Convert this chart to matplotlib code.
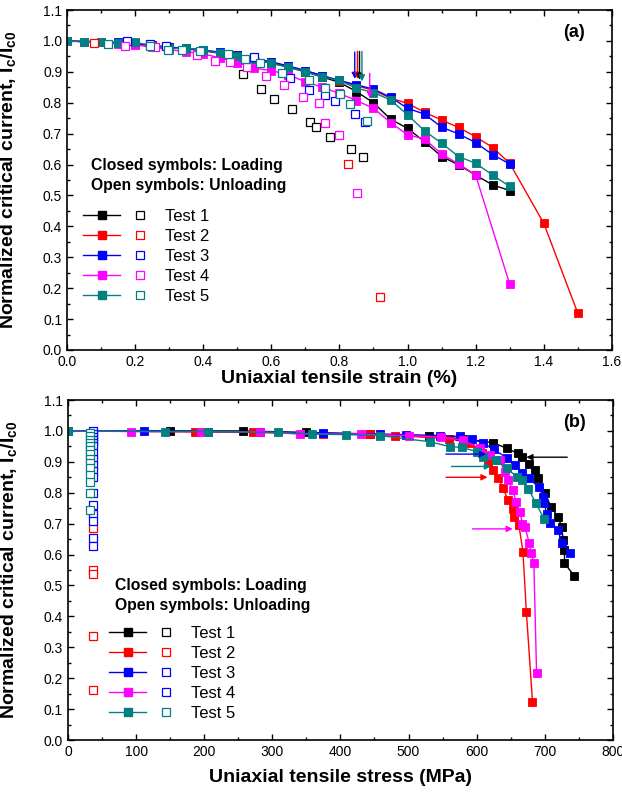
import matplotlib
matplotlib.use('Agg')
import matplotlib.pyplot as plt
from matplotlib.legend_handler import HandlerTuple
from matplotlib.lines import Line2D
from matplotlib.ticker import MultipleLocator

plt.rcParams['font.family'] = 'Liberation Sans'
plt.rcParams['mathtext.fontset'] = 'custom'
plt.rcParams['mathtext.rm'] = 'Liberation Sans'
plt.rcParams['mathtext.bf'] = 'Liberation Sans:bold'

tests = ['Test 1', 'Test 2', 'Test 3', 'Test 4', 'Test 5']
colors = ['black', 'red', 'blue', 'magenta', '#008080']

# ---- (a) Ic vs strain, loading (closed symbols)
strain_t1 = [0.0, 0.05, 0.1, 0.15, 0.2, 0.25, 0.3, 0.35, 0.4, 0.45, 0.5, 0.55, 0.6, 0.65,
             0.7, 0.75, 0.8, 0.85, 0.9, 0.95, 1.0, 1.05, 1.1, 1.15, 1.2, 1.25, 1.3]
ic_t1 = [1.0, 0.998, 0.997, 0.993, 0.99, 0.984, 0.978, 0.974, 0.968, 0.96, 0.95, 0.94, 0.928, 0.915,
         0.9, 0.883, 0.866, 0.836, 0.80, 0.747, 0.717, 0.674, 0.626, 0.599, 0.566, 0.534, 0.516]
strain_t2 = [0.0, 0.05, 0.1, 0.15, 0.2, 0.25, 0.3, 0.35, 0.4, 0.45, 0.5, 0.55, 0.6, 0.65,
             0.7, 0.75, 0.8, 0.85, 0.9, 0.95, 1.0, 1.05, 1.1, 1.15, 1.2, 1.25, 1.3, 1.4, 1.5]
ic_t2 = [1.0, 0.997, 0.996, 0.993, 0.99, 0.985, 0.979, 0.975, 0.97, 0.962, 0.953, 0.943, 0.931, 0.918,
         0.903, 0.887, 0.871, 0.855, 0.84, 0.815, 0.798, 0.769, 0.744, 0.72, 0.69, 0.655, 0.604, 0.41, 0.119]
strain_t3 = [0.0, 0.05, 0.1, 0.15, 0.2, 0.25, 0.3, 0.35, 0.4, 0.45, 0.5, 0.55, 0.6, 0.65,
             0.7, 0.75, 0.8, 0.85, 0.9, 0.95, 1.0, 1.05, 1.1, 1.15, 1.2, 1.25, 1.3]
ic_t3 = [1.0, 0.998, 0.998, 0.995, 0.992, 0.986, 0.98, 0.976, 0.971, 0.963, 0.954, 0.944, 0.932, 0.919,
         0.904, 0.888, 0.872, 0.858, 0.844, 0.818, 0.782, 0.763, 0.721, 0.699, 0.671, 0.632, 0.602]
strain_t4 = [0.0, 0.05, 0.1, 0.15, 0.2, 0.25, 0.3, 0.35, 0.4, 0.45, 0.5, 0.55, 0.6, 0.65,
             0.7, 0.75, 0.8, 0.85, 0.9, 0.95, 1.0, 1.05, 1.1, 1.15, 1.2, 1.3]
ic_t4 = [1.0, 0.997, 0.995, 0.99, 0.987, 0.98, 0.972, 0.965, 0.958, 0.945, 0.93, 0.912, 0.904, 0.89,
         0.868, 0.85, 0.83, 0.807, 0.782, 0.736, 0.696, 0.683, 0.634, 0.602, 0.566, 0.213]
strain_t5 = [0.0, 0.05, 0.1, 0.15, 0.2, 0.25, 0.3, 0.35, 0.4, 0.45, 0.5, 0.55, 0.6, 0.65,
             0.7, 0.75, 0.8, 0.85, 0.9, 0.95, 1.0, 1.05, 1.1, 1.15, 1.2, 1.25, 1.3]
ic_t5 = [1.0, 0.998, 0.998, 0.992, 0.995, 0.985, 0.976, 0.976, 0.971, 0.96, 0.951, 0.941, 0.928, 0.915,
         0.9, 0.884, 0.872, 0.847, 0.833, 0.809, 0.761, 0.709, 0.669, 0.626, 0.604, 0.566, 0.529]

# ---- (a) unloading (open symbols)
strain_u1 = [0.517, 0.571, 0.607, 0.661, 0.713, 0.732, 0.772, 0.834, 0.87]
ic_u1 = [0.893, 0.845, 0.813, 0.779, 0.739, 0.721, 0.688, 0.649, 0.626]
strain_u2 = [0.08, 0.25, 0.826, 0.92]
ic_u2 = [0.993, 0.985, 0.603, 0.173]
strain_u3 = [0.175, 0.245, 0.29, 0.55, 0.656, 0.71, 0.759, 0.788, 0.847, 0.876]
ic_u3 = [1.0, 0.99, 0.982, 0.949, 0.881, 0.841, 0.825, 0.804, 0.763, 0.739]
strain_u4 = [0.17, 0.259, 0.381, 0.435, 0.479, 0.528, 0.584, 0.638, 0.692, 0.74, 0.759, 0.80, 0.852]
ic_u4 = [0.984, 0.98, 0.955, 0.936, 0.933, 0.914, 0.885, 0.858, 0.82, 0.80, 0.736, 0.696, 0.509]
strain_u5 = [0.12, 0.244, 0.298, 0.337, 0.391, 0.474, 0.524, 0.568, 0.631, 0.71, 0.757, 0.803, 0.83, 0.88]
ic_u5 = [0.989, 0.985, 0.971, 0.969, 0.966, 0.957, 0.941, 0.93, 0.897, 0.872, 0.849, 0.828, 0.795, 0.741]

# ---- (a) vertical arrows: x, y start, y end
arrow_a_x = [0.845, 0.853, 0.859, 0.866, 0.889]
arrow_a_y0 = [0.964, 0.966, 0.966, 0.966, 0.895]
arrow_a_y1 = [0.877, 0.877, 0.874, 0.869, 0.815]
arrow_a_col = ['blue', 'red', 'black', '#008080', 'magenta']

# ---- (b) Ic vs stress, loading
stress_t1 = [0, 150, 257, 350, 444, 530, 580, 624, 644, 660, 666, 677, 685, 690, 700,
             709, 719, 725, 727, 729, 729, 743]
icb_t1 = [1.0, 1.0, 1.0, 0.995, 0.99, 0.982, 0.975, 0.962, 0.944, 0.928, 0.915, 0.893, 0.874, 0.847, 0.80,
          0.755, 0.723, 0.69, 0.647, 0.615, 0.572, 0.532]
stress_t2 = [0, 186, 272, 374, 444, 480, 560, 590, 608, 617, 624, 632, 639, 646, 653, 655, 662,
             668, 673, 682]
icb_t2 = [1.0, 0.997, 0.995, 0.99, 0.99, 0.985, 0.975, 0.96, 0.93, 0.90, 0.874, 0.847, 0.814, 0.777,
          0.747, 0.723, 0.696, 0.609, 0.415, 0.124]
stress_t3 = [0, 36, 111, 205, 282, 374, 458, 497, 546, 576, 593, 610, 625, 645, 656, 666, 677,
             691, 698, 699, 703, 707, 719, 726, 737]
icb_t3 = [1.0, 1.0, 1.0, 0.998, 0.997, 0.993, 0.99, 0.988, 0.985, 0.982, 0.975, 0.96, 0.94, 0.912,
          0.89, 0.863, 0.847, 0.818, 0.787, 0.768, 0.73, 0.703, 0.678, 0.638, 0.606]
stress_t4 = [0, 93, 195, 282, 340, 430, 500, 547, 580, 605, 619, 634, 641, 646, 653, 658, 664,
             667, 671, 677, 680, 684, 688]
icb_t4 = [1.0, 0.998, 0.998, 0.997, 0.99, 0.99, 0.985, 0.98, 0.97, 0.944, 0.922, 0.906, 0.868, 0.841,
          0.809, 0.771, 0.738, 0.699, 0.69, 0.639, 0.606, 0.572, 0.218]
stress_t5 = [0, 142, 205, 309, 359, 408, 458, 531, 561, 578, 600, 610, 629, 644, 659, 666, 676,
             687, 699]
icb_t5 = [1.0, 0.998, 0.998, 0.995, 0.99, 0.988, 0.985, 0.965, 0.949, 0.947, 0.933, 0.917, 0.906,
          0.879, 0.852, 0.841, 0.813, 0.766, 0.716]

# ---- (b) unloading column near 35 MPa
stress_u_red = [36, 36, 36, 36, 36]
icb_u_red = [0.687, 0.55, 0.537, 0.337, 0.162]
stress_u_blue = [36] * 17
icb_u_blue = [1.0, 0.99, 0.98, 0.97, 0.96, 0.95, 0.93, 0.91, 0.89, 0.87, 0.85, 0.80, 0.76, 0.73,
              0.71, 0.654, 0.629]
stress_u_teal = [32] * 14
icb_u_teal = [0.993, 0.982, 0.971, 0.96, 0.95, 0.939, 0.926, 0.908, 0.897, 0.879, 0.858, 0.836,
              0.80, 0.744]

# ---- (b) horizontal arrows: x start, x end, y
arrow_b_x0 = [733, 555, 563, 555, 594]
arrow_b_x1 = [673, 614, 621, 616, 653]
arrow_b_y = [0.915, 0.925, 0.885, 0.85, 0.683]
arrow_b_col = ['black', 'blue', '#008080', 'red', 'magenta']

ms = 5.2
fig = plt.figure(figsize=(6.22, 7.94), dpi=100)
ax1 = fig.add_axes([0.1077, 0.5592, 0.876, 0.4282])
ax2 = fig.add_axes([0.1093, 0.068, 0.876, 0.4282])

load_a = [(strain_t1, ic_t1), (strain_t2, ic_t2), (strain_t3, ic_t3), (strain_t4, ic_t4), (strain_t5, ic_t5)]
unload_a = [(strain_u1, ic_u1), (strain_u2, ic_u2), (strain_u3, ic_u3), (strain_u4, ic_u4), (strain_u5, ic_u5)]
for (x, y), c in zip(load_a, colors):
    ax1.plot(x, y, '-s', color=c, lw=1, ms=ms, mec=c, mew=0.6)
for (x, y), c in zip(unload_a, colors):
    ax1.plot(x, y, 's', color=c, ms=ms, mfc='white', mec=c, mew=0.9, ls='none')
for x, y0, y1, c in zip(arrow_a_x, arrow_a_y0, arrow_a_y1, arrow_a_col):
    ax1.annotate('', xy=(x, y1), xytext=(x, y0),
                 arrowprops=dict(arrowstyle='-|>', color=c, lw=1, mutation_scale=9, shrinkA=0, shrinkB=0))

load_b = [(stress_t1, icb_t1), (stress_t2, icb_t2), (stress_t3, icb_t3), (stress_t4, icb_t4), (stress_t5, icb_t5)]
for (x, y), c in zip(load_b, colors):
    ax2.plot(x, y, '-s', color=c, lw=1, ms=ms, mec=c, mew=0.6)
for x, y, c in [(stress_u_red, icb_u_red, 'red'), (stress_u_blue, icb_u_blue, 'blue'),
                (stress_u_teal, icb_u_teal, '#008080')]:
    ax2.plot(x, y, 's', ms=ms, mfc='white', mec=c, mew=0.9, ls='none')
for x0, x1, y, c in zip(arrow_b_x0, arrow_b_x1, arrow_b_y, arrow_b_col):
    ax2.annotate('', xy=(x1, y), xytext=(x0, y),
                 arrowprops=dict(arrowstyle='-|>', color=c, lw=1, mutation_scale=9, shrinkA=0, shrinkB=0))

ylab = r'Normalized critical current, I$_\mathbf{c}$/I$_\mathbf{c0}$'
for ax in (ax1, ax2):
    ax.set_ylim(0, 1.1)
    ax.yaxis.set_major_locator(MultipleLocator(0.1))
    ax.yaxis.set_minor_locator(MultipleLocator(0.05))
    ax.yaxis.set_major_formatter(plt.FormatStrFormatter('%.1f'))
    ax.tick_params(which='both', direction='in', top=True, right=True, labelsize=10)
    ax.tick_params(which='major', length=4.5, width=1)
    ax.tick_params(which='minor', length=2.5, width=1)
    for s in ax.spines.values():
        s.set_linewidth(1.2)
    ax.set_ylabel(ylab, fontsize=14, fontweight='bold')
    ax.yaxis.set_label_coords(-0.088, 0.5)

ax1.set_xlim(0, 1.6)
ax1.xaxis.set_major_locator(MultipleLocator(0.2))
ax1.xaxis.set_minor_locator(MultipleLocator(0.1))
ax1.xaxis.set_major_formatter(plt.FormatStrFormatter('%.1f'))
ax1.set_xlabel('Uniaxial tensile strain (%)', fontsize=14, fontweight='bold', labelpad=1)
ax2.set_xlim(0, 800)
ax2.xaxis.set_major_locator(MultipleLocator(100))
ax2.xaxis.set_minor_locator(MultipleLocator(50))
ax2.set_xlabel('Uniaxial tensile stress (MPa)', fontsize=14, fontweight='bold', labelpad=7)

ax1.text(0.93, 0.935, '(a)', transform=ax1.transAxes, fontsize=13, fontweight='bold', ha='center', va='center')
ax2.text(0.93, 0.935, '(b)', transform=ax2.transAxes, fontsize=13, fontweight='bold', ha='center', va='center')


def add_legend(ax, tx, ty, lx, ly, open_cols):
    ax.text(tx, ty, 'Closed symbols: Loading', transform=ax.transAxes, fontsize=11.3,
            fontweight='bold', va='center')
    ax.text(tx, ty - 0.059, 'Open symbols: Unloading', transform=ax.transAxes, fontsize=11.3,
            fontweight='bold', va='center')
    handles = []
    for c, oc in zip(colors, open_cols):
        h1 = Line2D([], [], color=c, lw=1, marker='s', ms=ms, mec=c)
        h2 = Line2D([], [], ls='none', marker='s', ms=ms, mfc='white', mec=oc, mew=0.9)
        handles.append((h1, h2))
    ax.legend(handles, tests, loc='upper left', bbox_to_anchor=(lx, ly), frameon=False,
              fontsize=12, handlelength=4.5, handletextpad=0.4, labelspacing=0.3,
              borderpad=0, borderaxespad=0,
              handler_map={tuple: HandlerTuple(ndivide=None, pad=0.1)})


add_legend(ax1, 0.0435, 0.542, 0.030, 0.416, colors)
add_legend(ax2, 0.086, 0.454, 0.076, 0.335, ['black', 'red', 'blue', 'blue', '#008080'])

fig.savefig('out.png', dpi=100)
